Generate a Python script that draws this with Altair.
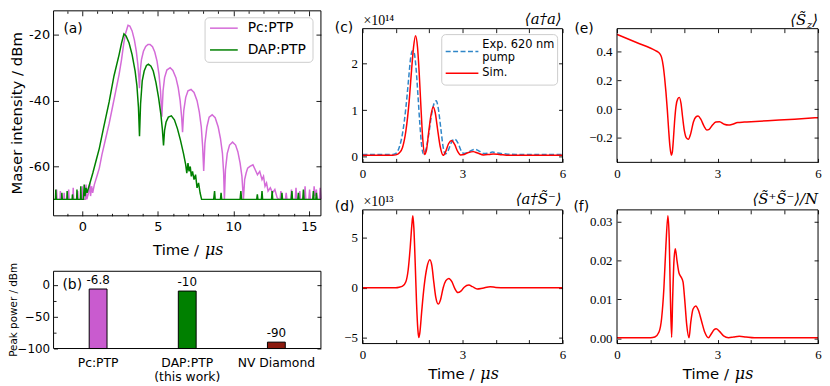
import altair as alt
import pandas as pd

# ---------------- data ----------------
# (a) maser intensity (dBm) vs time (us)
pc_t = [-1.9,-1.72,-1.7,-1.67,-1.47,-1.45,-1.42,-1.22,-1.2,-1.17,-0.92,-0.9,-0.87,-0.62,-0.6,-0.57,-0.32,-0.3,-0.27,-0.02,0.0,0.03,0.2,0.25,0.3,0.42,0.5,0.55,0.62,0.69,
        0.8,1.0,1.13,1.3,1.5,1.78,2.0,2.2,2.44,2.6,2.75,2.87,3.03,3.15,3.3,3.45,3.58,3.68,3.75,3.79,3.84,3.92,4.05,4.2,4.35,4.49,4.65,4.8,4.95,5.08,5.18,5.27,5.35,5.45,5.6,5.82,6.0,6.2,6.35,6.48,6.58,6.64,6.72,6.85,7.0,7.2,7.4,7.6,7.75,7.88,7.97,8.04,8.12,8.25,8.4,8.6,8.8,9.0,9.15,9.28,9.36,9.41,9.48,9.6,9.75,9.95,10.15,10.3,10.45,10.57,10.67,10.75,10.85,10.95,11.1,11.3,11.45,11.6,11.75,11.9,12.0,12.1,12.2,12.3,12.45,12.6,12.75,12.9,13.0,
        13.1,13.15,13.2,13.45,13.5,13.55,13.8,13.85,13.9,14.1,14.15,14.2,14.35,14.4,14.45,14.7,14.75,14.8,15.0,15.05,15.1,15.3,15.35,15.4,15.5,15.55,15.7,15.75,15.8]
pc_v = [-70,-70,-67,-70,-70,-67.5,-70,-70,-68,-70,-70,-67,-70,-70,-66.5,-70,-70,-67.5,-70,-70,-66,-70,-70,-65.5,-70,-68,-65,-69,-66,-68,
        -65.5,-62.5,-60.5,-56.5,-52.5,-47,-42,-37.5,-32,-27.5,-22.5,-19.5,-17.1,-17.3,-18.8,-21.5,-25,-29,-33,-36.2,-31,-27.5,-25,-23.5,-22.9,-22.9,-23.6,-25.2,-28,-32,-37,-44.9,-37,-33,-30.7,-30,-30.8,-33,-36,-40,-45,-49.6,-43,-39,-37,-36.6,-37.5,-40,-43.5,-48,-54,-61.4,-53,-48,-45,-44.3,-45.2,-48,-51.5,-56,-62,-70,-61,-56,-53.5,-52.6,-53.5,-55.5,-59,-63,-70,-64,-62,-60.5,-60,-59.5,-61,-62.5,-61.5,-64,-63,-66,-65,-67.5,-66.5,-68,-67,-69.5,-70,
        -70,-67.5,-70,-70,-68,-70,-70,-67,-70,-70,-66.5,-70,-70,-67.5,-70,-70,-66,-70,-70,-67,-70,-70,-66,-69,-67,-70,-70,-66.5,-70]
dap_t = [-1.9,-1.77,-1.75,-1.72,-1.37,-1.35,-1.32,-1.02,-1.0,-0.97,-0.67,-0.65,-0.62,-0.37,-0.35,-0.32,-0.12,-0.1,-0.07,0.08,0.13,0.18,0.25,0.32,
         0.48,0.7,0.9,1.13,1.4,1.78,2.1,2.44,2.6,2.76,2.9,3.1,3.3,3.5,3.62,3.72,3.79,3.86,3.97,4.1,4.25,4.38,4.55,4.7,4.88,5.05,5.2,5.3,5.38,5.45,5.55,5.7,5.9,6.1,6.3,6.5,6.7,6.85,6.92,7.0,7.07,7.15,7.22,7.3,7.4,7.5,7.6,7.7,7.8,7.9,
         8.7,8.76,8.8,9.15,9.19,9.23,10.45,10.5,10.55,11.55,11.59,11.63,11.86,11.9,11.94,12.53,12.57,12.61,13.18,13.22,13.26,13.84,13.88,13.92,14.27,14.31,14.35,14.6,14.64,14.68,15.26,15.3,15.34,15.46,15.5,15.54,15.8]
dap_v = [-70,-70,-67,-70,-70,-68,-70,-70,-67.5,-70,-70,-68.5,-70,-70,-67,-70,-70,-66,-70,-70,-65.5,-69,-66.5,-68,
         -65.5,-62,-58.5,-54.5,-48.5,-40.4,-32.5,-26,-22.5,-19.7,-20.3,-22.5,-26,-31,-35.5,-42,-50.8,-41,-34,-31,-29.3,-28.9,-29.5,-31,-34.5,-39,-44,-48.5,-53.6,-49,-46.5,-45,-44.6,-45.8,-48.5,-52,-56,-59.5,-62,-59,-61.5,-60,-63,-61.5,-64,-62.5,-66.5,-65,-68,-70,
         -70,-67.5,-70,-70,-68,-70,-70,-67.5,-70,-70,-68.5,-70,-70,-67.5,-70,-70,-67.5,-70,-70,-68,-70,-70,-67.5,-70,-70,-68,-70,-70,-67,-70,-70,-67.5,-70,-70,-68,-70,-70]
a_series = ["Pc:PTP", "DAP:PTP"]

# (b) peak power
b_cat = ["Pc:PTP", "DAP:PTP|(this work)", "NV Diamond"]
b_val = [-6.8, -10, -90]
b_lab = ["-6.8", "-10", "-90"]

# (c) <a+a> (x1e14)
c_exp_t = [0,0.9,1.0,1.1,1.2,1.3,1.38,1.44,1.49,1.54,1.6,1.66,1.72,1.78,1.83,1.9,1.98,2.07,2.15,2.21,2.27,2.35,2.42,2.48,2.56,2.66,2.76,2.86,2.96,3.04,3.15,3.28,3.38,3.5,3.63,3.78,3.9,4.05,4.3,4.6,6.0]
c_exp_v = [0.05,0.05,0.07,0.2,0.5,1.05,1.65,2.1,2.27,2.25,1.95,1.35,0.7,0.2,0.06,0.15,0.45,0.9,1.15,1.2,1.05,0.6,0.2,0.06,0.12,0.3,0.38,0.3,0.13,0.07,0.09,0.14,0.16,0.12,0.07,0.08,0.1,0.08,0.06,0.05,0.05]
c_sim_t = [0,0.9,1.0,1.1,1.2,1.3,1.4,1.47,1.53,1.59,1.65,1.7,1.75,1.8,1.86,1.92,1.98,2.05,2.12,2.18,2.25,2.33,2.42,2.5,2.58,2.67,2.76,2.85,2.94,3.05,3.18,3.32,3.45,3.63,3.8,3.93,4.1,4.4,6.0]
c_sim_v = [0.03,0.03,0.04,0.08,0.2,0.55,1.2,1.85,2.35,2.6,2.35,1.8,1.1,0.45,0.05,0.15,0.5,0.88,1.07,0.95,0.6,0.22,0.03,0.12,0.28,0.35,0.27,0.12,0.04,0.05,0.09,0.11,0.08,0.04,0.05,0.06,0.05,0.03,0.03]
c_legend = ["Exp. 620 nm", "pump", "Sim."]

# (d) <a+ S->  (x1e13)
d_t = [0,1.0,1.1,1.2,1.3,1.37,1.43,1.48,1.51,1.54,1.58,1.62,1.66,1.69,1.72,1.78,1.85,1.93,2.02,2.08,2.14,2.2,2.27,2.34,2.42,2.5,2.59,2.68,2.77,2.86,2.95,3.05,3.19,3.3,3.44,3.6,3.83,4.0,4.3,6.0]
d_v = [0,0,0.05,0.15,0.6,1.8,4.0,6.3,7.2,6.0,2.5,-1.5,-4.2,-5.0,-4.5,-2.2,0.2,2.0,2.8,2.2,0.5,-1.0,-1.64,-1.2,0.0,0.7,0.93,0.6,-0.1,-0.49,-0.35,0.05,0.27,0.1,-0.13,-0.05,0.1,0.03,0,0]

# (e) <Sz>
e_t = [0,0.6,1.15,1.22,1.28,1.33,1.38,1.42,1.46,1.5,1.54,1.58,1.62,1.65,1.68,1.72,1.76,1.81,1.86,1.91,1.96,2.01,2.07,2.13,2.2,2.28,2.35,2.42,2.5,2.6,2.68,2.75,2.85,2.95,3.06,3.2,3.33,3.45,3.6,3.8,4.5,5.3,6.0]
e_v = [0.52,0.462,0.407,0.398,0.385,0.36,0.30,0.22,0.12,0.0,-0.14,-0.26,-0.32,-0.3,-0.22,-0.08,0.02,0.07,0.082,0.04,-0.06,-0.15,-0.2,-0.21,-0.17,-0.09,-0.055,-0.048,-0.07,-0.12,-0.145,-0.14,-0.11,-0.09,-0.087,-0.105,-0.111,-0.105,-0.093,-0.09,-0.08,-0.07,-0.059]

# (f) <S+S->/N
f_t = [0,1.0,1.13,1.25,1.33,1.4,1.46,1.52,1.56,1.59,1.63,1.66,1.7,1.74,1.79,1.85,1.91,1.97,2.02,2.08,2.15,2.2,2.27,2.35,2.43,2.52,2.62,2.73,2.82,2.9,2.96,3.05,3.18,3.33,3.48,3.65,3.85,4.1,6.0]
f_v = [0.0001,0.0001,0.0003,0.0015,0.005,0.013,0.024,0.0316,0.025,0.012,0.0002,0.01,0.02,0.0231,0.02,0.0168,0.0158,0.0145,0.01,0.0035,0.0001,0.004,0.0075,0.0083,0.0072,0.0045,0.0015,0.0001,0.0012,0.0022,0.0024,0.0018,0.0006,0.0001,0.0003,0.0005,0.0003,0.0001,0.0001]

# ---------------- style ----------------
SA = "DejaVu Sans"
SE = "Liberation Serif"
MATH = "DejaVu Serif"
PC = "#d46bd8"
PCB = "#c95bcf"
GR = "#008000"
NV = "#8b1a0e"
BLUE = "#2f86c8"
RED = "#ff0000"
D0 = pd.DataFrame({"k": [0]})
W, H = 822, 378   # whole drawing area (page coords minus the 8px margin)

# panel rectangles [x0, x1, y0, y1] in drawing-area pixels
RA = [46, 316, 0, 207]
RB = [46, 316, 263, 341]
RC = [358, 560, 18, 153]
RD = [358, 560, 201, 336]
RE = [615, 818, 18, 153]
RF = [615, 818, 201, 336]


def xs(dom, r):
    return alt.Scale(domain=dom, range=[r[0], r[1]], nice=False, zero=False)


def ys(dom, r):
    return alt.Scale(domain=dom, range=[r[3], r[2]], nice=False, zero=False)


def ax(orient, r, values, labels=True, size=4, font=SA, fs=13, pad=5, fmt=None, expr=None):
    if orient == "left":
        off = -(r[0] + size)
    elif orient == "right":
        off = (r[1] - size) - W
    elif orient == "bottom":
        off = (r[3] - size) - H
    else:
        off = -(r[2] + size)
    kw = dict(orient=orient, values=values, labels=labels, ticks=True, tickSize=size, offset=off,
              domain=False, grid=False, title=None, tickColor="#000", tickWidth=0.9,
              labelColor="#000", labelFont=font, labelFontSize=fs, labelPadding=pad,
              labelOverlap=False, labelFlush=False)
    if fmt:
        kw["format"] = fmt
    if expr:
        kw["labelExpr"] = expr
    return alt.Axis(**kw)


def ghost(xsc, ysc, xaxis, yaxis, dom_x, dom_y):
    d = pd.DataFrame({"t": [dom_x[0]], "v": [dom_y[0]]})
    return alt.Chart(d).mark_point(opacity=0).encode(
        x=alt.X("t:Q", scale=xsc, axis=xaxis),
        y=alt.Y("v:Q", scale=ysc, axis=yaxis))


def box(r, stroke="#000", radius=0, fill_op=0):
    return alt.Chart(D0).mark_rect(fill="white", fillOpacity=fill_op, stroke=stroke, strokeWidth=1,
                                   cornerRadius=radius).encode(
        x=alt.value(r[0]), x2=alt.value(r[1]), y=alt.value(r[2]), y2=alt.value(r[3]))


def txt(s, x, y, size=13, font=SA, align="left", baseline="middle", angle=None, style=None):
    kw = dict(text=s, align=align, baseline=baseline, font=font, fontSize=size, color="#000")
    if angle is not None:
        kw["angle"] = angle
    if style:
        kw["fontStyle"] = style
    return alt.Chart(D0).mark_text(**kw).encode(x=alt.value(x), y=alt.value(y))


def seg(x0, x1, y, color, dash=None):
    kw = dict(color=color, strokeWidth=1.5)
    if dash:
        kw["strokeDash"] = dash
    return alt.Chart(D0).mark_rule(**kw).encode(x=alt.value(x0), x2=alt.value(x1), y=alt.value(y))


def time_title(cx, y):
    return [txt("Time /", cx + 12, y, size=15, align="right"),
            txt("\u03bcs", cx + 18, y, size=16, font=MATH, style="italic")]


# ---------------- panel (a) ----------------
XA = [-1.9, 15.8]
YA = [-75, -12.7]
sxa, sya = xs(XA, RA), ys(YA, RA)
df_pc = pd.DataFrame({"t": pc_t, "v": pc_v})
df_dap = pd.DataFrame({"t": dap_t, "v": dap_v})
a1 = alt.Chart(df_pc).mark_line(strokeWidth=1.5, color=PC).encode(
    x=alt.X("t:Q", scale=sxa, axis=ax("bottom", RA, [0, 5, 10, 15], size=5, pad=5)),
    y=alt.Y("v:Q", scale=sya, axis=ax("left", RA, [-60, -40, -20], size=5, pad=4,
                                      expr="replace(datum.label, '\u2212', '-')")))
a2 = alt.Chart(df_dap).mark_line(strokeWidth=1.5, color=GR).encode(
    x=alt.X("t:Q", scale=sxa, axis=None),
    y=alt.Y("v:Q", scale=sya, axis=None))
minors = [-1, 1, 2, 3, 4, 6, 7, 8, 9, 11, 12, 13, 14]
pa = alt.layer(
    a1, a2,
    ghost(sxa, sya, ax("top", RA, [0, 5, 10, 15], labels=False, size=5),
          ax("right", RA, [-60, -40, -20], labels=False, size=5), XA, YA),
    ghost(sxa, sya, ax("bottom", RA, minors, labels=False, size=2.5), None, XA, YA),
    ghost(sxa, sya, ax("top", RA, minors, labels=False, size=2.5), None, XA, YA),
).resolve_axis(x="independent", y="independent")

legend_a = [
    box([199, 308, 7, 52], stroke="#cccccc", radius=4, fill_op=0.85),
    seg(204, 232, 17.5, PC),
    seg(204, 232, 39.5, GR),
    txt(a_series[0], 242, 17.5, size=14),
    txt(a_series[1], 242, 39.5, size=14),
]

# ---------------- panel (b) ----------------
YB = [-100, 21]
sxb = alt.Scale(domain=b_cat, range=[RB[0], RB[1]], paddingInner=0.8, paddingOuter=0.4)
syb = ys(YB, RB)
df_b = pd.DataFrame({"cat": b_cat, "val": b_val, "lab": b_lab})
b1 = alt.Chart(df_b).mark_bar(stroke="#000", strokeWidth=1).encode(
    x=alt.X("cat:N", sort=b_cat, scale=sxb,
            axis=alt.Axis(orient="bottom", labelExpr="split(datum.label, '|')", labelAngle=0,
                          ticks=True, tickSize=4, offset=(RB[3] - 4) - H, domain=False, grid=False,
                          title=None, labelFont=SA, labelFontSize=12.5, labelColor="#000",
                          tickColor="#000", labelPadding=8, labelLineHeight=14,
                          labelBaseline="top")),
    y=alt.Y("val:Q", scale=syb, axis=ax("left", RB, [-100, -50, 0], pad=4, fs=12)),
    y2=alt.datum(-100),
    color=alt.Color("cat:N", scale=alt.Scale(domain=b_cat, range=[PCB, GR, NV]), legend=None))
b2 = alt.Chart(df_b).mark_text(baseline="bottom", dy=-2, font=SA, fontSize=12, color="#000").encode(
    x=alt.X("cat:N", sort=b_cat, scale=sxb, axis=None),
    y=alt.Y("val:Q", scale=syb, axis=None),
    text="lab:N")
b3 = alt.Chart(df_b).mark_point(opacity=0).encode(
    x=alt.X("cat:N", sort=b_cat, scale=sxb, axis=None),
    y=alt.Y("val:Q", scale=syb, axis=ax("right", RB, [-100, -50, 0], labels=False)))
b4 = alt.Chart(df_b).mark_point(opacity=0).encode(
    x=alt.X("cat:N", sort=b_cat, scale=sxb, axis=None),
    y=alt.Y("val:Q", scale=syb, axis=ax("left", RB, [-75, -25], labels=False, size=2.5)))
pb = alt.layer(b1, b2, b3, b4).resolve_axis(x="independent", y="independent")

# ---------------- right panels ----------------
XC = [0, 6]
XV = [0, 1, 2, 3, 4, 5, 6]
XEXPR = "datum.value % 3 === 0 ? datum.label : ''"


def right_panel(layers_fn, r, ydom, yvals, fmt=None):
    sx, sy = xs(XC, r), ys(ydom, r)
    main_axes = (ax("bottom", r, XV, font=SE, fs=13, pad=5, expr=XEXPR),
                 ax("left", r, yvals, font=SE, fs=13, pad=5, fmt=fmt))
    layers = layers_fn(sx, sy, main_axes)
    layers.append(ghost(sx, sy, ax("top", r, XV, labels=False), ax("right", r, yvals, labels=False), XC, ydom))
    return alt.layer(*layers).resolve_axis(x="independent", y="independent")


YC = [-0.12, 2.75]
df_ce = pd.DataFrame({"t": c_exp_t, "v": c_exp_v})
df_cs = pd.DataFrame({"t": c_sim_t, "v": c_sim_v})


def c_layers(sx, sy, axes):
    return [
        alt.Chart(df_ce).mark_line(strokeWidth=1.5, color=BLUE, strokeDash=[5, 2.5],
                                   interpolate="monotone").encode(
            x=alt.X("t:Q", scale=sx, axis=axes[0]), y=alt.Y("v:Q", scale=sy, axis=axes[1])),
        alt.Chart(df_cs).mark_line(strokeWidth=1.5, color=RED, interpolate="monotone").encode(
            x=alt.X("t:Q", scale=sx, axis=None), y=alt.Y("v:Q", scale=sy, axis=None)),
    ]


def single(df):
    def fn(sx, sy, axes):
        return [alt.Chart(df).mark_line(strokeWidth=1.5, color=RED, interpolate="monotone").encode(
            x=alt.X("t:Q", scale=sx, axis=axes[0]), y=alt.Y("v:Q", scale=sy, axis=axes[1]))]
    return fn


YD = [-5.6, 7.8]
YE = [-0.37, 0.56]
YF = [-0.0014, 0.0331]
pc = right_panel(c_layers, RC, YC, [0, 1, 2])
pd_ = right_panel(single(pd.DataFrame({"t": d_t, "v": d_v})), RD, YD, [-5, 0, 5])
pe = right_panel(single(pd.DataFrame({"t": e_t, "v": e_v})), RE, YE, [-0.2, 0.0, 0.2, 0.4], fmt=".1f")
pf = right_panel(single(pd.DataFrame({"t": f_t, "v": f_v})), RF, YF, [0, 0.01, 0.02, 0.03], fmt=".2f")

# legend box of panel (c)
legend_c = [
    box([438, 555, 24, 75], stroke="#cccccc", radius=4, fill_op=0.85),
    seg(442, 475, 41, BLUE, dash=[5, 2.5]),
    seg(442, 475, 63, RED),
    txt(c_legend[0], 479, 35, size=11.5),
    txt(c_legend[1], 479, 48, size=11.5),
    txt(c_legend[2], 479, 63, size=11.5),
]

# ---------------- texts ----------------
texts = [
    txt("(a)", 56, 18.5, size=14),
    txt("Maser intensity / dBm", 9, 103.5, size=15, angle=270, align="center"),
    *time_title(181, 242),
    txt("(b)", 55, 277, size=14),
    txt("Peak power / dBm", 6, 302, size=10.5, angle=270, align="center"),
    txt("(c)", 330, 17, size=14),
    txt("\u00d710\u00b9\u2074", 359, 14, size=14, font=SE, baseline="alphabetic"),
    txt("\u27e8a\u2020a\u27e9", 559, 13, size=15, font=MATH, style="italic", align="right", baseline="alphabetic"),
    txt("(d)", 330, 198, size=14),
    txt("\u00d710\u00b9\u00b3", 359, 197, size=14, font=SE, baseline="alphabetic"),
    txt("\u27e8a\u2020S\u0303\u207b\u27e9", 559, 195, size=15, font=MATH, style="italic", align="right", baseline="alphabetic"),
    *time_title(459, 367),
    txt("(e)", 572, 18, size=14),
    txt("\u27e9", 818, 14, size=15, font=MATH, style="italic", align="right", baseline="alphabetic"),
    txt("z", 812, 17, size=10, font=MATH, style="italic", align="right", baseline="alphabetic"),
    txt("\u27e8S\u0303", 806, 14, size=15, font=MATH, style="italic", align="right", baseline="alphabetic"),
    txt("(f)", 571, 198, size=14),
    txt("\u27e8S\u0303\u207aS\u0303\u207b\u27e9/N", 818, 195, size=15, font=MATH, style="italic", align="right", baseline="alphabetic"),
    *time_title(716, 367),
]
frames = [box(r) for r in (RA, RB, RC, RD, RE, RF)]

chart = alt.layer(pa, pb, pc, pd_, pe, pf, *frames, *legend_a, *legend_c, *texts).resolve_scale(
    x="independent", y="independent", color="independent"
).resolve_axis(x="independent", y="independent").properties(
    width=W, height=H, padding=0, background="white").configure_view(
    stroke="transparent", strokeWidth=0)

chart.save("out.html", embed_options={"renderer": "svg", "actions": False})
